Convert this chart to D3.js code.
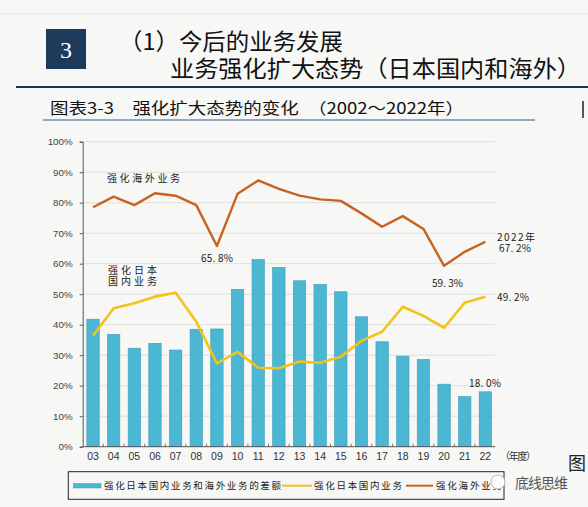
<!DOCTYPE html>
<html><head><meta charset="utf-8">
<script src="https://cdn.jsdelivr.net/npm/d3@7/dist/d3.min.js"></script>
<style>
html,body{margin:0;padding:0;background:#f7f7f5;}
svg{display:block;}
</style></head>
<body><svg id="c" width="588" height="507"></svg>
<script>
const years = ["03","04","05","06","07","08","09","10","11","12","13","14","15","16","17","18","19","20","21","22"];
const gapValues = [41.8,36.8,32.3,33.9,31.7,38.5,38.6,51.6,61.4,58.8,54.4,53.2,50.8,42.6,34.4,29.7,28.6,20.5,16.4,18.0];
const domesticValues = [36.4,45.4,47.0,49.2,50.5,41.0,27.3,31.1,25.9,25.7,27.9,27.5,29.5,34.7,37.7,45.9,42.9,39.0,47.2,49.2];
const overseasValues = [78.5,82.0,79.2,83.1,82.3,79.2,65.8,82.9,87.3,84.5,82.3,81.1,80.6,76.5,72.1,75.6,71.4,59.3,63.9,67.2];
const yTicks = [0,10,20,30,40,50,60,70,80,90,100];
const seriesNames = ["强化日本国内业务和海外业务的差额","强化日本国内业务","强化海外业务"];

const svg = d3.select("#c");
const CJK = "'Noto Sans CJK SC','Noto Sans CJK JP',sans-serif";
const LAT = "'Liberation Sans',Arial,sans-serif";

// header
svg.append("line").attr("x1",0).attr("x2",588).attr("y1",14).attr("y2",14).attr("stroke","#e2e2e2").attr("stroke-width",1);
svg.append("rect").attr("x",46).attr("y",29).attr("width",40).attr("height",40).attr("fill","#1f3b5c");
svg.append("text").attr("x",66).attr("y",58).attr("text-anchor","middle").attr("fill","#fff")
  .attr("font-family","'Liberation Serif',serif").attr("font-size",24).text("3");
const head = svg.append("text").attr("font-family",CJK).attr("font-size",23).attr("fill","#111");
head.append("tspan").attr("x",119).attr("y",50).attr("textLength",224).attr("lengthAdjust","spacingAndGlyphs").text("（1）今后的业务发展");
head.append("tspan").attr("x",170).attr("y",77).attr("textLength",411).attr("lengthAdjust","spacingAndGlyphs").text("业务强化扩大态势（日本国内和海外）");
svg.append("line").attr("x1",16).attr("x2",588).attr("y1",87).attr("y2",87).attr("stroke","#1f3350").attr("stroke-width",2.2);
svg.append("text").attr("x",50).attr("y",114).attr("font-family",CJK).attr("font-size",15.5).attr("fill","#111")
  .attr("textLength",414).attr("lengthAdjust","spacingAndGlyphs").text("图表3-3　强化扩大态势的变化　（2002～2022年）");
svg.append("line").attr("x1",43).attr("x2",535).attr("y1",120).attr("y2",120).attr("stroke","#2a5a8a").attr("stroke-width",1);
svg.append("line").attr("x1",583).attr("x2",583).attr("y1",101).attr("y2",118).attr("stroke","#222").attr("stroke-width",1.5);

// scales
const x = d3.scaleBand().domain(years).range([82.7,495.7]).paddingInner(0.4).paddingOuter(0.2);
const y = d3.scaleLinear().domain([0,100]).range([446.7,141.7]);
const cx = d => x(d) + x.bandwidth()/2;

// grid
svg.append("g").selectAll("line").data(yTicks.filter(t=>t>0)).join("line")
  .attr("x1",82.7).attr("x2",495).attr("y1",d=>y(d)).attr("y2",d=>y(d))
  .attr("stroke","#d8d8d8").attr("stroke-width",0.8);

// y axis
const yAxis = d3.axisLeft(y).tickValues(yTicks).tickFormat(d=>d+"%").tickSize(3).tickPadding(7);
const gy = svg.append("g").attr("transform","translate(82.7,0)").call(yAxis);
gy.select(".domain").attr("stroke","#555");
gy.selectAll(".tick line").attr("stroke","#555");
gy.selectAll(".tick text").attr("font-family",LAT).attr("font-size",9.8).attr("fill","#444");

// bars
svg.append("g").selectAll("rect").data(years).join("rect")
  .attr("x",d=>x(d)).attr("width",x.bandwidth())
  .attr("y",(d,i)=>y(gapValues[i])).attr("height",(d,i)=>y(0)-y(gapValues[i]))
  .attr("fill","#4cb7d3").attr("stroke","#3b9cb8").attr("stroke-width",0.6);

// x axis
const xAxis = d3.axisBottom(x).tickSize(0).tickPadding(6);
const gx = svg.append("g").attr("transform","translate(0,446.7)").call(xAxis);
gx.select(".domain").attr("stroke","#555").attr("d","M82.7,0H495");
gx.selectAll(".tick text").attr("font-family",LAT).attr("font-size",10.5).attr("fill","#333");
svg.append("g").selectAll("line").data(years.slice(1)).join("line")
  .attr("x1",d=>x(d)-x.step()*0.2).attr("x2",d=>x(d)-x.step()*0.2)
  .attr("y1",446.7).attr("y2",443.7).attr("stroke","#555").attr("stroke-width",0.8);
svg.append("text").attr("x",500).attr("y",460).attr("font-family",CJK).attr("font-size",10).attr("fill","#333")
  .attr("textLength",36).text("（年度）");

// lines
const line = d3.line().x((d,i)=>cx(years[i])).y(d=>y(d));
svg.append("path").datum(domesticValues).attr("d",line).attr("fill","none")
  .attr("stroke","#f1c31c").attr("stroke-width",2.6).attr("stroke-linejoin","round");
svg.append("path").datum(overseasValues).attr("d",line).attr("fill","none")
  .attr("stroke","#c8621f").attr("stroke-width",2.4).attr("stroke-linejoin","round");

// annotations
const ann = (tx,ty,t,len,fs)=>{ const e=svg.append("text").attr("x",tx).attr("y",ty).attr("font-family",CJK)
  .attr("font-size",fs||10).attr("fill","#222").text(t); if(len) e.attr("textLength",len); return e;};
const ann2 = (tx1,ty1,t1,len1,tx2,ty2,t2,len2,fs)=>{ const e=svg.append("text").attr("font-family",CJK)
  .attr("font-size",fs||10).attr("fill","#222");
  e.append("tspan").attr("x",tx1).attr("y",ty1).attr("textLength",len1).text(t1);
  e.append("tspan").attr("x",tx2).attr("y",ty2).attr("textLength",len2).text(t2); return e;};
ann(107,181.5,"强化海外业务",73);
ann2(108,274,"强化日本",49,108,285,"国内业务",49);
ann(201,262,"65. 8%",32);
ann(432,287,"59. 3%",31);
ann2(497,241,"2022年",38,499,251.5,"67. 2%",32);
ann(497,300.5,"49. 2%",32);
ann(469,387,"18. 0%",32);

// legend
svg.append("rect").attr("x",68.3).attr("y",471.7).attr("width",435.7).attr("height",27.6)
  .attr("fill","none").attr("stroke","#222").attr("stroke-width",1);
svg.append("rect").attr("x",73.5).attr("y",483.5).attr("width",27.5).attr("height",4.5).attr("fill","#4cb7d3").attr("stroke","#3b9cb8").attr("stroke-width",0.5);
ann(104,489.3,seriesNames[0],177,9.5);
svg.append("line").attr("x1",282).attr("x2",312).attr("y1",485.7).attr("y2",485.7).attr("stroke","#f1c31c").attr("stroke-width",2);
ann(314,489.3,seriesNames[1],88,9.5);
svg.append("line").attr("x1",406).attr("x2",433).attr("y1",485.7).attr("y2",485.7).attr("stroke","#c8621f").attr("stroke-width",2);
ann(436,489.3,seriesNames[2],66,9.5);

// watermark and page edge
svg.append("circle").attr("cx",498).attr("cy",482).attr("r",7).attr("fill","#fbfbfb").attr("stroke","#aaa").attr("stroke-width",0.8);
svg.append("text").attr("x",515).attr("y",487.5).attr("font-family",CJK).attr("font-size",14).attr("fill","#555")
  .attr("textLength",53).text("底线思维");
svg.append("text").attr("x",568).attr("y",470).attr("font-family",CJK).attr("font-size",18).attr("fill","#222").text("图");
</script></body></html>
